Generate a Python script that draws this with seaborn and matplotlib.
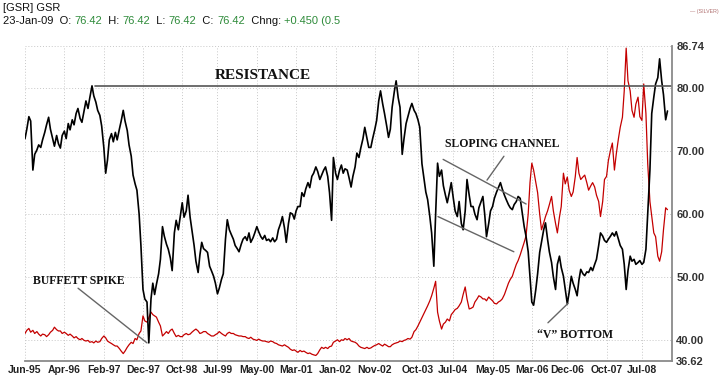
import matplotlib
matplotlib.use("Agg")
import pandas as pd
import matplotlib.pyplot as plt
import matplotlib.dates as mdates
import seaborn as sns

# semi-monthly points (1st and 15th), Jun-1995 .. Jan-2009
start_date = "1995-06-01"

# gold/silver ratio (black)
gsr = [
    72.0, 73.5, 75.5, 74.8, 67.0, 69.5, 70.2, 71.0, 70.6, 71.8, 73.0, 74.2, 75.4, 73.5,
    72.0, 70.8, 72.5, 71.2, 70.5, 72.5, 73.2, 72.0, 74.4, 73.4, 75.0, 74.2,
    76.0, 76.8, 75.2, 74.6, 76.5, 78.0, 76.8, 78.5, 80.4, 78.8, 77.8, 76.5,
    75.7, 74.0, 70.5, 66.5, 68.6, 71.8, 72.8, 71.5, 73.0, 71.8, 73.5, 74.8,
    76.5, 74.8, 73.3, 71.0, 69.2, 66.2, 64.8, 63.8, 60.0, 55.0, 48.0, 46.5,
    46.0, 39.5, 46.5, 49.0, 47.2, 48.8, 50.5, 52.8, 58.0, 56.5, 55.2, 54.4,
    53.0, 51.0, 57.0, 59.0, 57.5, 59.5, 61.8, 59.5, 60.5, 63.0, 59.5, 57.5,
    55.0, 52.5, 50.7, 53.5, 55.5, 54.5, 54.2, 53.9, 51.7, 51.0, 50.1, 49.0,
    47.3, 48.2, 49.6, 50.5, 56.0, 59.1, 57.5, 56.8, 56.0, 55.0, 54.5, 54.0,
    55.2, 56.0, 56.4, 55.8, 57.0, 55.5, 56.2, 57.0, 58.0, 57.2, 56.4, 56.0,
    56.6, 55.8, 56.0, 55.6, 56.2, 55.6, 56.0, 57.5, 58.5, 59.6, 57.8, 55.5,
    58.5, 60.2, 60.0, 59.2, 60.5, 61.2, 61.2, 63.4, 62.8, 64.0, 65.0, 64.2,
    66.0, 66.5, 67.5, 66.8, 65.5, 66.2, 67.0, 67.5, 66.0, 63.4, 59.0, 69.0,
    66.5, 65.5, 67.0, 67.8, 66.5, 67.2, 67.0, 65.8, 64.3, 66.0, 67.5, 69.7,
    69.0, 70.5, 72.0, 73.8, 72.0, 70.6, 70.6, 72.0, 73.5, 74.9, 78.0, 79.6,
    77.5, 76.0, 74.0, 72.2, 73.5, 77.0, 79.5, 81.2, 78.5, 77.0, 69.5, 72.0,
    74.4, 75.5, 76.8, 77.6, 76.5, 76.0, 75.0, 73.8, 68.0, 65.9, 63.5, 62.3,
    59.6, 57.0, 51.7, 60.0, 68.1, 66.0, 67.0, 64.5, 63.0, 61.8, 63.5, 65.0,
    62.5, 60.5, 59.6, 62.0, 58.5, 57.5, 60.5, 65.5, 63.0, 61.2, 61.2, 60.0,
    59.1, 61.0, 62.0, 62.8, 60.0, 56.4, 58.5, 60.5, 61.2, 62.5, 63.5, 64.2,
    65.0, 64.0, 63.0, 62.3, 61.5, 61.0, 60.7, 61.5, 62.0, 62.8, 62.5, 60.5,
    58.0, 56.5, 54.0, 50.0, 46.0, 45.5, 48.0, 50.5, 53.9, 55.5, 57.5, 58.6,
    56.0, 54.0, 52.3, 50.0, 48.0, 52.0, 53.3, 51.5, 50.1, 48.0, 45.7, 47.5,
    50.1, 49.0, 48.0, 47.0, 49.5, 51.2, 50.5, 50.2, 50.8, 50.7, 51.5, 51.0,
    52.0, 52.8, 55.0, 57.0, 56.5, 55.8, 55.5, 56.0, 56.5, 57.0, 56.5, 57.2,
    56.0, 55.0, 54.4, 52.0, 48.0, 51.0, 53.3, 52.5, 52.8, 52.0, 52.3, 52.6,
    52.0, 52.3, 54.4, 60.0, 67.0, 76.0, 78.6, 80.7, 81.7, 84.7, 81.2, 79.0,
    75.0, 76.4,
]

# silver overlay (red), as drawn on the ratio scale
silver_scaled = [
    41.0, 41.5, 41.8, 41.2, 41.5, 41.0, 41.3, 40.9, 40.6, 40.9, 40.8, 40.5, 40.8, 41.2,
    41.5, 42.0, 41.6, 41.4, 41.4, 41.0, 41.2, 41.0, 40.7, 40.9, 40.6, 40.3,
    40.5, 40.2, 40.0, 40.2, 39.9, 39.8, 39.9, 39.6, 39.7, 39.5, 39.8, 39.6,
    39.7, 40.2, 40.6, 40.3, 39.8, 39.6, 39.4, 39.2, 39.0, 39.0, 38.6, 38.2,
    37.8, 38.2, 38.8, 39.2, 39.6, 39.4, 40.2, 40.0, 41.0, 41.4, 43.8, 43.0,
    42.8, 43.5, 44.4, 44.0, 43.8, 43.6, 42.8, 42.2, 40.6, 40.9, 41.3, 41.0,
    41.5, 41.7, 41.0, 40.5, 40.7, 40.5, 40.5, 40.8, 41.0, 40.8, 40.9, 41.2,
    41.5, 41.7, 41.4, 41.0, 41.1, 41.3, 41.3, 41.0, 40.8, 40.6, 40.6, 40.8,
    41.0, 41.3, 41.0, 40.8, 40.6, 41.0, 41.2, 41.0, 41.0, 40.8, 40.7, 40.6,
    40.6, 40.5, 40.5, 40.3, 40.2, 40.4, 40.1, 40.0, 39.9, 40.1, 39.9, 39.8,
    39.8, 39.7, 39.6, 39.8, 39.7, 39.5, 39.4, 39.2, 39.1, 39.0, 39.2, 39.0,
    38.8, 38.5, 38.3, 38.4, 38.2, 38.0, 38.3, 38.1, 38.2, 38.0, 37.8, 37.9,
    37.7, 37.6, 37.5, 37.8, 38.4, 38.8, 38.6, 38.8, 38.6, 38.9, 39.0, 39.6,
    39.8, 40.0, 39.7, 40.0, 39.9, 40.2, 40.0, 40.2, 39.8, 39.7, 39.6, 39.4,
    39.0, 38.8, 38.7, 38.6, 38.8, 38.6, 38.7, 38.9, 39.1, 39.2, 39.4, 39.2,
    39.0, 39.3, 39.1, 38.9, 38.9, 39.2, 39.4, 39.5, 39.6, 39.8, 39.7, 39.9,
    40.0, 40.2, 40.1, 40.4, 41.3, 41.6, 42.2, 42.8, 43.5, 44.1, 44.8, 45.4,
    46.2, 47.0, 48.2, 49.3, 44.4, 43.0, 41.7, 42.5, 42.8, 43.3, 43.0, 44.0,
    44.4, 44.8, 45.0, 45.4, 46.0, 47.2, 48.4, 46.5, 44.9, 45.0, 45.2, 46.0,
    46.5, 47.0, 46.8, 46.5, 46.5, 46.2, 46.8, 46.5, 46.2, 45.8, 45.7, 46.0,
    46.2, 46.5, 47.2, 48.0, 49.0, 49.6, 50.1, 51.0, 52.0, 52.6, 53.5, 54.4,
    55.5, 56.5, 60.0, 65.0, 68.1, 67.0, 65.0, 63.4, 60.0, 57.5, 58.6, 59.6,
    60.5, 61.5, 62.8, 60.5, 58.5, 57.0, 59.5, 61.2, 66.5, 64.8, 65.9, 63.8,
    62.8, 63.5, 66.0, 69.0, 66.5, 65.5, 65.9, 66.2, 65.0, 63.8, 64.5, 65.0,
    64.3, 63.0, 62.0, 59.6, 62.0, 65.5, 66.0, 68.5, 70.2, 71.3, 67.0, 69.5,
    72.0, 73.8, 75.4, 79.6, 86.4, 81.2, 79.6, 76.5, 75.4, 77.5, 78.6, 75.5,
    74.9, 80.7, 76.0, 68.0, 62.0, 59.6, 57.0, 56.4, 53.3, 52.5, 54.0, 57.5,
    61.0, 60.7,
]

tick_months = ["1995-06", "1996-04", "1997-02", "1997-12", "1998-10", "1999-07",
               "2000-05", "2001-03", "2002-01", "2002-11", "2003-10", "2004-07",
               "2005-05", "2006-03", "2006-12", "2007-10", "2008-07"]
y_ticks = [36.62, 40, 50, 60, 70, 80, 86.74]
resistance_level = 80.3

header_title = "[GSR] GSR"
header_parts = [("23-Jan-09  O: ", "k"), ("76.42", "g"), ("  H: ", "k"), ("76.42", "g"),
                ("  L: ", "k"), ("76.42", "g"), ("  C: ", "k"), ("76.42", "g"),
                ("  Chng: ", "k"), ("+0.450 (0.5", "g")]

assert len(gsr) == len(silver_scaled) == 328
dates = pd.date_range(start_date, periods=len(gsr), freq="SMS")
df = pd.DataFrame({"date": dates, "gsr": gsr, "silver": silver_scaled})

sns.set_theme(style="white")
plt.rcParams["font.family"] = ["Liberation Sans", "DejaVu Sans"]

fig = plt.figure(figsize=(7.2, 3.88), dpi=100)
ax = fig.add_axes([25 / 720, 1 - 361 / 388, 647 / 720, 315 / 388])

sns.lineplot(data=df, x="date", y="silver", color="#c40000", linewidth=0.9, ax=ax)
sns.lineplot(data=df, x="date", y="gsr", color="black", linewidth=1.2, ax=ax)

ax.set_xlim(pd.Timestamp("1995-06-01"), pd.Timestamp("2009-02-19"))
ax.set_ylim(36.62, 86.74)
ax.set_xlabel("")
ax.set_ylabel("")

ax.set_xticks([pd.Timestamp(m + "-01") for m in tick_months])
ax.xaxis.set_major_formatter(mdates.DateFormatter("%b-%y"))
ax.set_yticks(y_ticks)
ax.set_yticklabels([f"{v:.2f}" for v in y_ticks])
ax.yaxis.tick_right()
ax.tick_params(axis="x", length=0, pad=3, labelsize=7.5, labelcolor="#222222")
ax.tick_params(axis="y", length=0, pad=3, labelsize=8, labelcolor="#333333")
for lab in ax.get_xticklabels() + ax.get_yticklabels():
    lab.set_fontweight("bold")

ax.grid(True, linestyle=(0, (1, 2)), color="#c8c8c8", linewidth=0.7)
for s in ["left", "top"]:
    ax.spines[s].set_visible(False)
for s in ["right", "bottom"]:
    ax.spines[s].set_color("#8a8a8a")
    ax.spines[s].set_linewidth(1.3)

# resistance line from the late-1996 peak
ax.plot([pd.Timestamp("1996-11-25"), pd.Timestamp("2009-02-19")],
        [resistance_level, resistance_level], color="#555555", linewidth=1.2)

serif = {"family": ["Liberation Serif", "DejaVu Serif"], "weight": "bold", "color": "#111111"}
ax.text(pd.Timestamp("2000-06-19"), 82.0, "RESISTANCE", ha="center", va="center", fontsize=11, **serif)
ax.text(pd.Timestamp("2005-07-13"), 71.1, "SLOPING CHANNEL", ha="center", va="center", fontsize=8.5, **serif)
ax.text(pd.Timestamp("1996-07-22"), 49.3, "BUFFETT SPIKE", ha="center", va="center", fontsize=8.5, **serif)
ax.text(pd.Timestamp("2007-02-01"), 40.8, "\u201cV\u201d BOTTOM", ha="center", va="center", fontsize=8.5, **serif)

seg_kw = dict(color="#666666", linewidth=1.0)
ax.plot([pd.Timestamp("1996-07-16"), pd.Timestamp("1998-01-01")], [48.2, 39.5], **seg_kw)
ax.plot([pd.Timestamp("2005-07-28"), pd.Timestamp("2005-03-19")], [69.2, 65.4], **seg_kw)
ax.plot([pd.Timestamp("2004-04-13"), pd.Timestamp("2006-01-16")], [68.7, 61.6], **seg_kw)
ax.plot([pd.Timestamp("2004-03-04"), pd.Timestamp("2005-10-13")], [59.6, 54.0], **seg_kw)
ax.plot([pd.Timestamp("2006-07-04"), pd.Timestamp("2006-12-07")], [42.7, 45.8], **seg_kw)

# header: title line, then a row of black labels and green values
hdr_size = 8
fig.text(3 / 720, 1 - 8 / 388, header_title, fontsize=hdr_size, va="center", ha="left", color="#111111")
first_txt, _ = header_parts[0]
prev = fig.text(3 / 720, 1 - 21 / 388, first_txt, fontsize=hdr_size, va="center", ha="left", color="#111111")
for txt, c in header_parts[1:]:
    prev = ax.annotate(txt, xy=(1, 0), xycoords=prev, va="bottom", ha="left",
                       fontsize=hdr_size, color="#2e8b3a" if c == "g" else "#111111",
                       annotation_clip=False)

fig.text(690 / 720, 1 - 12 / 388, "\u2014 (SILVER)", fontsize=3.8, color="#b07070", va="center", ha="left")

fig.savefig("out.png", dpi=100)
